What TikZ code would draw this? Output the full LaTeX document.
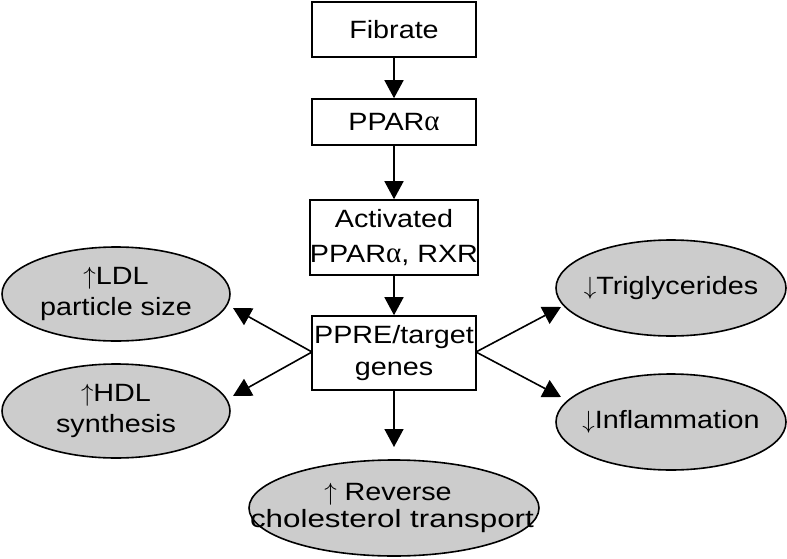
\documentclass[tikz,border=0pt]{standalone}
\usepackage{fontspec}
\setmainfont{Liberation Sans}[FakeStretch=1.15]
\newfontfamily\grk{Liberation Serif}
\usetikzlibrary{arrows.meta}
\definecolor{ellgray}{RGB}{204,204,204}
\newcommand{\upa}{$\uparrow$}
\newcommand{\dna}{$\downarrow$}
\newcommand{\alf}{{\grk\fontsize{29}{35}\selectfont α}}
\begin{document}
\begin{tikzpicture}[x=1pt,y=-1pt,
  box/.style={draw,line width=1.6pt,minimum width=164pt,inner sep=0pt,align=center,font=\fontsize{25}{35}\selectfont},
  ell/.style={draw,line width=1.6pt,fill=ellgray},
  lbl/.style={inner sep=0pt,align=center,font=\fontsize{25}{31}\selectfont},
  arr/.style={line width=1.6pt,-{Triangle[length=18pt,width=19pt]}}]
\useasboundingbox (0,0) rectangle (787,559);
% boxes
\node[box,minimum height=55pt] (fib) at (394,29.5) {Fibrate};
\node[box,minimum height=46pt] (ppar) at (394,122) {PPAR\alf};
\node[box,minimum height=75pt] (act) at (394,237.5) {Activated\\PPAR\alf, RXR};
\node[box,minimum height=74pt,font=\fontsize{25}{32}\selectfont] (ppre) at (394,353) {PPRE/target\\genes};
% ellipses
\draw[ell] (116,294) ellipse (114 and 47);
\node[lbl] (ldl) at (116,294) {\upa LDL\\particle size};
\draw[ell] (116,411) ellipse (114 and 47);
\node[lbl] (hdl) at (116,411) {\upa HDL\\synthesis};
\draw[ell] (671,288) ellipse (115 and 48);
\node[lbl] (tg) at (671,288) {\dna Triglycerides};
\draw[ell] (671,422) ellipse (115 and 48);
\node[lbl] (inf) at (671,422) {\dna Inflammation};
\draw[ell] (394,508) ellipse (145 and 48);
\node[lbl,font=\fontsize{25}{27}\selectfont] (rev) at (392,508) {\upa{} Reverse\hspace*{8pt}\\\scalebox{1.09}[1]{cholesterol transport}};
% arrow tips
\coordinate (tldl) at (233,308);
\coordinate (thdl) at (233,396);
\coordinate (ttg) at (561,307);
\coordinate (tinf) at (561,397);
\coordinate (trev) at (394,447);
\coordinate (pl) at (312,352);
\coordinate (pr) at (476,352);
% arrows
\draw[arr] (fib) -- (ppar);
\draw[arr] (ppar) -- (act);
\draw[arr] (act) -- (ppre);
\draw[arr] (pl) -- (tldl);
\draw[arr] (pl) -- (thdl);
\draw[arr] (pr) -- (ttg);
\draw[arr] (pr) -- (tinf);
\draw[arr] (ppre) -- (trev);
\end{tikzpicture}
\end{document}
